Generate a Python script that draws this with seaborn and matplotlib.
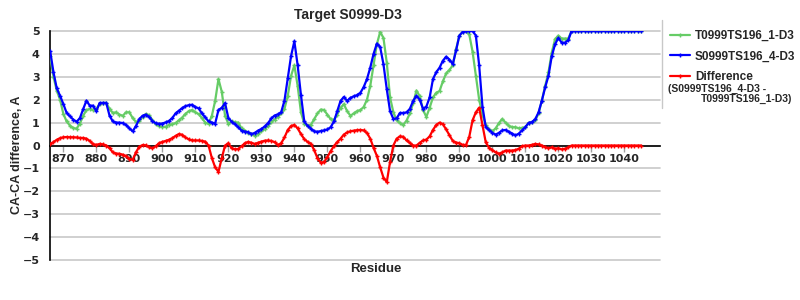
import matplotlib
matplotlib.use("Agg")
import matplotlib.pyplot as plt
from matplotlib.lines import Line2D
import pandas as pd
import seaborn as sns

residues = list(range(866, 1046))

model_1 = [  # T0999TS196_1-D3
    3.9, 3.0, 2.4, 2.0, 1.38, 1.05, 0.87, 0.76, 0.74, 0.95,
    1.3, 1.55, 1.6, 1.55, 1.6, 1.82, 1.86, 1.86, 1.6, 1.42,
    1.45, 1.35, 1.3, 1.45, 1.45, 1.2, 1.03, 1.05, 1.25, 1.38,
    1.32, 1.1, 0.93, 0.85, 0.8, 0.82, 0.9, 0.93, 0.98, 1.1,
    1.22, 1.38, 1.5, 1.55, 1.45, 1.37, 1.2, 1.0, 0.95, 1.3,
    1.95, 2.9, 2.35, 1.3, 0.95, 1.05, 1.01, 1.0, 0.75, 0.65,
    0.55, 0.5, 0.43, 0.5, 0.62, 0.71, 0.85, 1.02, 1.13, 1.25,
    1.4, 1.6, 2.17, 3.04, 3.5, 2.6, 1.45, 0.95, 0.86, 0.9,
    1.15, 1.4, 1.57, 1.55, 1.35, 1.15, 1.12, 1.35, 1.65, 1.8,
    1.5, 1.3, 1.4, 1.5, 1.55, 1.68, 2.0, 2.6, 3.5, 4.42,
    4.96, 4.7, 3.62, 2.1, 1.45, 1.1, 0.98, 0.9, 1.09, 1.4,
    1.85, 2.4, 2.15, 1.55, 1.25, 1.65, 2.1, 2.3, 2.38, 2.8,
    3.15, 3.3, 3.5, 4.2, 4.8, 4.96, 5.0, 4.85, 4.1, 3.04,
    2.0, 1.35, 0.9, 0.7, 0.62, 0.75, 0.98, 1.16, 1.0, 0.86,
    0.8, 0.8, 0.75, 0.77, 0.8, 0.99, 1.02, 1.1, 1.4, 1.96,
    2.6, 3.19, 4.06, 4.64, 4.8, 4.67, 4.67, 4.67, 5.0, 5.0,
    5.0, 5.0, 5.0, 5.0, 5.0, 5.0, 5.0, 5.0, 5.0, 5.0,
    5.0, 5.0, 5.0, 5.0, 5.0, 5.0, 5.0, 5.0, 5.0, 5.0,
]

model_4 = [  # S0999TS196_4-D3
    4.13, 3.2, 2.5, 2.17, 1.81, 1.42, 1.28, 1.13, 1.04, 1.19,
    1.59, 1.96, 1.74, 1.74, 1.5, 1.86, 1.86, 1.86, 1.3, 1.05,
    1.0, 1.0, 0.98, 0.9, 0.75, 0.62, 0.85, 1.15, 1.3, 1.35,
    1.25, 1.07, 0.97, 0.95, 0.96, 1.01, 1.07, 1.2, 1.4, 1.52,
    1.63, 1.72, 1.76, 1.78, 1.68, 1.62, 1.4, 1.23, 1.05, 1.0,
    0.96, 1.55, 1.65, 1.85, 1.2, 1.04, 0.93, 0.8, 0.65, 0.61,
    0.58, 0.5, 0.55, 0.65, 0.72, 0.83, 0.97, 1.18, 1.31, 1.36,
    1.45, 1.96, 2.95, 3.91, 4.55, 3.5, 2.2, 1.05, 0.86, 0.74,
    0.62, 0.6, 0.63, 0.66, 0.7, 0.8, 1.05, 1.5, 1.95, 2.12,
    1.95, 2.08, 2.15, 2.2, 2.3, 2.55, 2.9, 3.4, 4.0, 4.45,
    4.3, 3.55, 2.46, 1.5, 1.16, 1.19, 1.42, 1.42, 1.45, 1.6,
    1.95, 2.17, 2.0, 1.6, 1.7, 2.1, 2.9, 3.2, 3.4, 3.7,
    3.88, 3.75, 3.55, 4.15, 4.8, 4.96, 5.0, 5.0, 5.0, 4.8,
    3.5, 1.7, 0.8, 0.68, 0.55, 0.48, 0.55, 0.66, 0.68, 0.6,
    0.52, 0.44, 0.52, 0.66, 0.8, 0.99, 1.02, 1.15, 1.45, 1.96,
    2.54, 3.04, 3.9, 4.42, 4.7, 4.49, 4.49, 4.6, 5.0, 5.0,
    5.0, 5.0, 5.0, 5.0, 5.0, 5.0, 5.0, 5.0, 5.0, 5.0,
    5.0, 5.0, 5.0, 5.0, 5.0, 5.0, 5.0, 5.0, 5.0, 5.0,
]

difference = [
    0.06, 0.15, 0.25, 0.32, 0.36, 0.37, 0.36, 0.36, 0.35, 0.33,
    0.33, 0.3, 0.2, 0.06, 0.03, 0.07, 0.05, 0.0, -0.12, -0.3,
    -0.35, -0.36, -0.4, -0.46, -0.58, -0.62, -0.3, -0.05, 0.02, 0.01,
    -0.08, -0.12, -0.03, 0.1, 0.16, 0.2, 0.25, 0.32, 0.42, 0.5,
    0.47, 0.35, 0.27, 0.22, 0.22, 0.22, 0.2, 0.17, 0.0, -0.55,
    -0.95, -1.15, -0.55, 0.0, 0.1, -0.12, -0.17, -0.15, -0.03, 0.1,
    0.16, 0.12, 0.07, 0.12, 0.17, 0.21, 0.22, 0.2, 0.15, 0.02,
    0.1, 0.35, 0.68, 0.85, 0.9, 0.75, 0.5, 0.28, 0.16, 0.08,
    -0.2, -0.55, -0.75, -0.72, -0.5, -0.25, -0.02, 0.15, 0.3, 0.48,
    0.57, 0.62, 0.65, 0.67, 0.68, 0.66, 0.55, 0.3, -0.1, -0.45,
    -0.95, -1.4, -1.6, -0.72, 0.0, 0.3, 0.4, 0.38, 0.22, 0.12,
    0.0, 0.0, 0.12, 0.22, 0.26, 0.4, 0.68, 0.9, 1.0, 0.93,
    0.7, 0.45, 0.2, 0.13, 0.1, 0.03, 0.02, 0.38, 1.1, 1.45,
    1.65, 0.9, 0.14, -0.1, -0.2, -0.3, -0.36, -0.3, -0.22, -0.22,
    -0.22, -0.2, -0.14, -0.03, 0.0, 0.0, 0.03, 0.07, 0.05, 0.0,
    -0.07, -0.12, -0.08, -0.14, -0.12, -0.17, -0.14, -0.08, 0.0, 0.0,
    0.0, 0.0, 0.0, 0.0, 0.0, 0.0, 0.0, 0.0, 0.0, 0.0,
    0.0, 0.0, 0.0, 0.0, 0.0, 0.0, 0.0, 0.0, 0.0, 0.0,
]

labels = ["T0999TS196_1-D3", "S0999TS196_4-D3", "Difference"]
colors = ["#66cc66", "#0000ff", "#ff0000"]
yticks = list(range(-5, 6))
xticks = list(range(870, 1041, 10))

sns.set_style("white")
plt.rcParams["font.family"] = ["Liberation Sans", "DejaVu Sans"]
plt.rcParams["axes.unicode_minus"] = True

fig = plt.figure(figsize=(8, 3), dpi=100)
ax = fig.add_axes([49.5 / 800, 40 / 300, 610.5 / 800, 229 / 300])

df = pd.DataFrame({"Residue": residues, labels[0]: model_1,
                   labels[1]: model_4, labels[2]: difference})

for i, (lab, col) in enumerate(zip(labels, colors)):
    sns.lineplot(data=df, x="Residue", y=lab, ax=ax, color=col, label=lab,
                 lw=1.6, marker="+", markersize=3, markeredgewidth=1,
                 markeredgecolor=col, zorder=3 + i)

ax.set_xlim(865.8, 1050.8)
ax.set_ylim(-5, 5)
ax.set_yticks(yticks)
ax.set_xticks(xticks)
ax.yaxis.grid(True, color="#c8c8c8", lw=1.2)
ax.xaxis.grid(False)
for gl in ax.get_ygridlines():
    gl.set_clip_on(False)

for s in ["top", "right"]:
    ax.spines[s].set_visible(False)
ax.spines["bottom"].set_position(("data", 0))
ax.spines["bottom"].set_color("black")
ax.spines["bottom"].set_linewidth(1.2)
ax.spines["bottom"].set_zorder(2.5)
ax.spines["left"].set_color("black")
ax.spines["left"].set_linewidth(1.2)

ax.tick_params(axis="x", direction="out", length=4, width=1, color="#a0a0a0",
               pad=2, bottom=True)
ax.tick_params(axis="y", length=0, pad=7)
for t in ax.get_xticklabels() + ax.get_yticklabels():
    t.set_fontfamily("DejaVu Sans")
    t.set_fontweight("bold")
    t.set_fontsize(8)

ax.set_title("Target S0999-D3", fontsize=10, fontweight="bold", pad=9)
ax.title.set_x((348 - 49.5) / 610.5)
ax.set_xlabel("Residue", fontsize=9.5, fontweight="bold")
ax.xaxis.set_label_coords(0.535, -0.012)
ax.set_ylabel("CA-CA difference, A", fontsize=9, fontweight="bold")
ax.yaxis.set_label_coords(-0.043, 0.46)

leg = ax.legend(loc="upper left", bbox_to_anchor=(670 / 800, 1 - 30 / 300),
                bbox_transform=fig.transFigure, frameon=False, fontsize=8.5,
                handlelength=1.7, handletextpad=0.4, labelspacing=0.72,
                borderpad=0, borderaxespad=0)
for t in leg.get_texts():
    t.set_fontweight("bold")

fig.text(668 / 800, 1 - 89 / 300, "(S0999TS196_4-D3 -", fontsize=7.5,
         fontweight="bold", ha="left", va="center")
fig.text(792 / 800, 1 - 99 / 300, "T0999TS196_1-D3)", fontsize=7.5,
         fontweight="bold", ha="right", va="center")
fig.add_artist(Line2D([662 / 800, 662 / 800], [1 - 20 / 300, 1 - 108 / 300],
                      color="#c8c8c8", lw=1, transform=fig.transFigure))

fig.savefig("out.png", dpi=100)
